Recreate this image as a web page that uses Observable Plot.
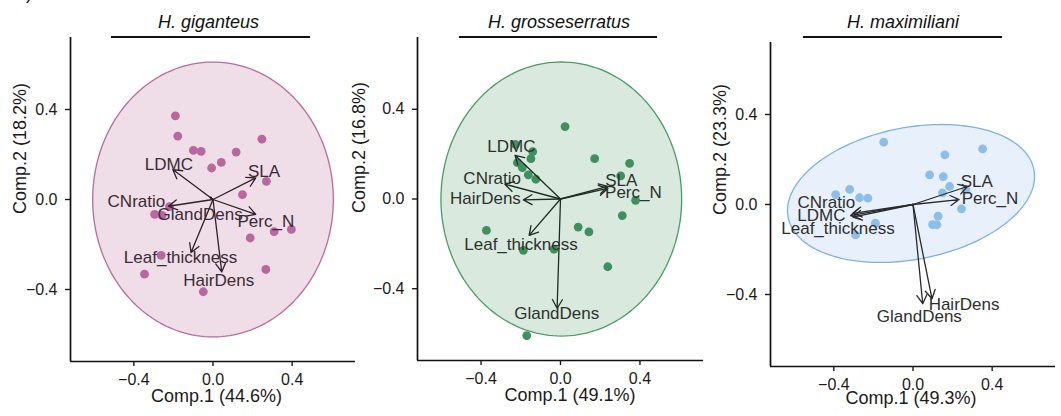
<!DOCTYPE html>
<html>
<head>
<meta charset="utf-8">
<script src="https://cdn.jsdelivr.net/npm/d3@7"></script>
<script src="https://cdn.jsdelivr.net/npm/@observablehq/plot@0.6"></script>
<style>
  html, body { margin: 0; padding: 0; background: #fff; }
  body { font-family: "Liberation Sans", Arial, sans-serif; }
  #wrap { position: relative; width: 1061px; height: 416px; overflow: hidden; background: #fff; }
  .panel { position: absolute; top: 0; }
  .title { position: absolute; top: 12px; font-size: 18px; font-style: italic; color: #111; white-space: nowrap; transform: translateX(-50%); line-height: 21px; }
  .uline { position: absolute; top: 36px; height: 0; border-top: 2.6px solid #111; }
  .tag { position: absolute; left: 16px; top: -17px; font-size: 18px; color: #111; line-height: 21px; }
</style>
</head>
<body>
<div id="wrap"><div class="tag">b)</div></div>
<script>
// ---------- data ----------
const species = ["H. giganteus", "H. grosseserratus", "H. maximiliani"];
const xAxisLabels = ["Comp.1 (44.6%)", "Comp.1 (49.1%)", "Comp.1 (49.3%)"];
const yAxisLabels = ["Comp.2 (18.2%)", "Comp.2 (16.8%)", "Comp.2 (23.3%)"];
const tickValues = [-0.4, 0, 0.4];
const axisDomain = [-0.72, 0.72];
const traits = ["LDMC", "SLA", "CNratio", "GlandDens", "Perc_N", "Leaf_thickness", "HairDens"];

// H. giganteus
const gigScoreX = [-0.19, -0.178, -0.099, -0.06, 0.117, 0.247, 0.042, -0.007, 0.27, 0.149, -0.295, -0.257, -0.22, 0.309, 0.396, 0.188, -0.262, -0.346, 0.267, -0.049];
const gigScoreY = [0.372, 0.282, 0.218, 0.214, 0.211, 0.268, 0.165, 0.14, 0.081, 0.022, -0.066, -0.071, -0.032, -0.143, -0.133, -0.171, -0.248, -0.332, -0.311, -0.41];
const gigLoadX = [-0.203, 0.216, -0.225, -0.014, 0.216, -0.111, 0.044];
const gigLoadY = [0.133, 0.096, -0.03, 0.01, -0.066, -0.236, -0.322];
const gigLabelX = [-0.223, 0.258, -0.387, -0.065, 0.267, -0.164, 0.029];
const gigLabelY = [0.155, 0.125, -0.008, -0.069, -0.096, -0.258, -0.361];
const gigEllipse = [0.0, 0.0, 0.608, 0.0, 0.0, 0.611]; // cx, cy, ux, uy, vx, vy

// H. grosseserratus
const groScoreX = [0.023, -0.227, -0.14, -0.149, -0.217, -0.192, -0.162, -0.124, 0.172, 0.348, 0.303, 0.378, 0.311, 0.089, 0.143, -0.373, -0.187, -0.033, 0.238, -0.17];
const groScoreY = [0.323, 0.243, 0.211, 0.18, 0.162, 0.14, 0.108, 0.088, 0.18, 0.159, 0.103, -0.006, -0.074, -0.125, -0.147, -0.14, -0.229, -0.224, -0.302, -0.609];
const groLoadX = [-0.229, 0.238, -0.28, -0.017, 0.238, -0.158, -0.187];
const groLoadY = [0.195, 0.056, 0.066, -0.487, 0.047, -0.162, -0.004];
const groLabelX = [-0.247, 0.306, -0.344, -0.019, 0.367, -0.199, -0.378];
const groLabelY = [0.236, 0.081, 0.092, -0.509, 0.027, -0.202, 0.003];
const groEllipse = [0.004, 0.0, 0.606, 0.0, 0.0, 0.611];

// H. maximiliani
const maxScoreX = [-0.148, 0.352, 0.161, 0.084, 0.153, 0.185, 0.149, 0.267, 0.245, 0.127, 0.099, 0.121, -0.391, -0.32, -0.27, -0.228, -0.19, -0.29];
const maxScoreY = [0.277, 0.247, 0.221, 0.132, 0.124, 0.08, 0.052, 0.065, -0.019, -0.052, -0.089, -0.09, 0.044, 0.067, 0.03, 0.028, -0.083, -0.135];
const maxLoadX = [-0.315, 0.275, -0.304, 0.049, 0.233, -0.303, 0.096];
const maxLoadY = [-0.049, 0.08, -0.039, -0.441, 0.022, -0.056, -0.419];
const maxLabelX = [-0.463, 0.322, -0.438, 0.032, 0.389, -0.379, 0.258];
const maxLabelY = [-0.049, 0.102, 0.01, -0.498, 0.025, -0.108, -0.444];
const maxEllipse = [-0.01, 0.049, 0.621, 0.105, 0.062, -0.288];

// ---------- styling / layout ----------
const panels = [
  {sx: gigScoreX, sy: gigScoreY, lx: gigLoadX, ly: gigLoadY, tx: gigLabelX, ty: gigLabelY, el: gigEllipse,
   left: 0, width: 360, mL: 70, mR: 5, mT: 37, mB: 55,
   dot: "#b8689d", fill: "#efdde8", edge: "#b56ca0", arrow: "#2e2028", text: "#3a2c35",
   ylab: {dx: -50, dy: 14.5}, xlab: {dx: 3.5, dy: 40},
   title: 208.5, ul: [111, 310]},
  {sx: groScoreX, sy: groScoreY, lx: groLoadX, ly: groLoadY, tx: groLabelX, ty: groLabelY, el: groEllipse,
   left: 350, width: 360, mL: 67, mR: 7, mT: 37, mB: 56,
   dot: "#3f8f5f", fill: "#dae9de", edge: "#4b9a67", arrow: "#1f2b23", text: "#2b322d",
   ylab: {dx: -58, dy: 14}, xlab: {dx: 9.5, dy: 40},
   title: 559, ul: [459, 657]},
  {sx: maxScoreX, sy: maxScoreY, lx: maxLoadX, ly: maxLoadY, tx: maxLabelX, ty: maxLabelY, el: maxEllipse,
   left: 700, width: 361, mL: 70, mR: 6, mT: 42, mB: 50,
   dot: "#8dbde9", fill: "#e8f1fb", edge: "#7db2e2", arrow: "#2a2a2a", text: "#2e2e2e",
   ylab: {dx: -50, dy: 10.5}, xlab: {dx: -2, dy: 37.5},
   title: 903, ul: [803, 1002]}
];

const wrap = document.getElementById("wrap");
const fmt = d3.format(".1f");

panels.forEach((p, i) => {
  const scores = p.sx.map((x, k) => ({x, y: p.sy[k]}));
  const loads = traits.map((t, k) => ({trait: t, x: p.lx[k], y: p.ly[k], tx: p.tx[k], ty: p.ty[k]}));
  const [cx, cy, ux, uy, vx, vy] = p.el;
  const ell = d3.range(0, 181).map(k => {
    const t = (k / 180) * 2 * Math.PI;
    return {x: cx + ux * Math.cos(t) + vx * Math.sin(t), y: cy + uy * Math.cos(t) + vy * Math.sin(t)};
  });

  const chart = Plot.plot({
    width: p.width, height: 416,
    marginLeft: p.mL, marginRight: p.mR, marginTop: p.mT, marginBottom: p.mB,
    style: {background: "transparent", fontFamily: "Liberation Sans, Arial, sans-serif", color: "#1a1a1a", overflow: "visible"},
    x: {domain: axisDomain},
    y: {domain: axisDomain},
    marks: [
      Plot.line(ell, {x: "x", y: "y", curve: "linear-closed", fill: p.fill, stroke: p.edge, strokeWidth: 1.3}),
      Plot.dot(scores, {x: "x", y: "y", r: 4.4, fill: p.dot, stroke: "none"}),
      Plot.arrow(loads, {x1: 0, y1: 0, x2: "x", y2: "y", stroke: p.arrow, strokeWidth: 1.3, headLength: 11.5, headAngle: 60}),
      Plot.text(loads, {x: "tx", y: "ty", text: "trait", fontSize: 17, fill: p.text}),
      Plot.ruleX([axisDomain[0]], {stroke: "#111", strokeWidth: 1.7}),
      Plot.ruleY([axisDomain[0]], {stroke: "#111", strokeWidth: 1.7}),
      Plot.axisX({ticks: tickValues, tickFormat: fmt, tickSize: 5, tickPadding: 7, fontSize: 16, label: null, strokeWidth: 1.4}),
      Plot.axisY({ticks: tickValues, tickFormat: fmt, tickSize: 5, tickPadding: 8, fontSize: 16, label: null, strokeWidth: 1.4}),
      Plot.text([xAxisLabels[i]], {text: d => d, frameAnchor: "bottom", dx: p.xlab.dx, dy: p.xlab.dy, fontSize: 18, fill: "#1a1a1a"}),
      Plot.text([yAxisLabels[i]], {text: d => d, frameAnchor: "left", rotate: -90, dx: p.ylab.dx, dy: p.ylab.dy, fontSize: 18, fill: "#1a1a1a"})
    ]
  });
  const holder = document.createElement("div");
  holder.className = "panel";
  holder.style.left = p.left + "px";
  holder.style.width = p.width + "px";
  holder.appendChild(chart);
  wrap.appendChild(holder);

  const title = document.createElement("div");
  title.className = "title";
  title.style.left = p.title + "px";
  title.textContent = species[i];
  wrap.appendChild(title);

  const ul = document.createElement("div");
  ul.className = "uline";
  ul.style.left = p.ul[0] + "px";
  ul.style.width = (p.ul[1] - p.ul[0]) + "px";
  wrap.appendChild(ul);
});
</script>
</body>
</html>
